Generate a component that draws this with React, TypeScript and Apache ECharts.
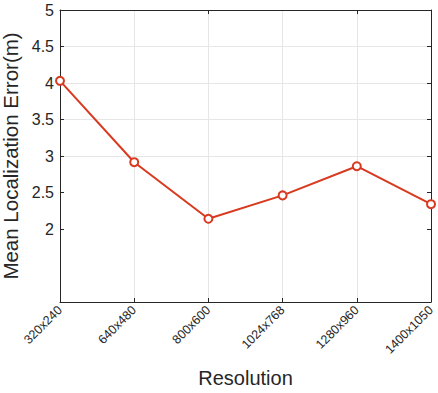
import React, { useEffect, useRef } from "react";
import * as echarts from "echarts";

const categories = ["320x240", "640x480", "800x600", "1024x768", "1280x960", "1400x1050"];
const errorValues = [4.03, 2.915, 2.14, 2.46, 2.86, 2.34];
const yTicks = [2, 2.5, 3, 3.5, 4, 4.5, 5];

const FONT = "'Liberation Sans', Arial, Helvetica, sans-serif";
const RED = "#d8391f";
const AXIS = "#262626";
const GRID = "#e6e6e6";

export default function App() {
  const ref = useRef<HTMLDivElement>(null);
  useEffect(() => {
    if (!ref.current) return;
    const chart = echarts.init(ref.current, undefined, { renderer: "svg" });
    const baseX = {
      type: "category" as const,
      data: categories,
      boundaryGap: false,
      axisLine: { show: true, onZero: false, lineStyle: { color: AXIS, width: 1 } },
      axisTick: { show: true, inside: true, length: 4, alignWithLabel: true, lineStyle: { color: AXIS } },
    };
    const baseY = {
      type: "value" as const,
      min: 1,
      max: 5,
      interval: 0.5,
      axisLine: { show: true, lineStyle: { color: AXIS, width: 1 } },
      axisTick: { show: true, inside: true, length: 4, customValues: yTicks, lineStyle: { color: AXIS } },
    };
    chart.setOption({
      animation: false,
      grid: { left: 60, right: 7, top: 10, bottom: 91, containLabel: false, outerBoundsMode: "none" },
      xAxis: [
        {
          ...baseX,
          position: "bottom",
          name: "Resolution",
          nameLocation: "middle",
          nameGap: 66,
          nameTextStyle: { fontFamily: FONT, fontSize: 20, color: AXIS },
          axisLabel: {
            rotate: 45,
            fontFamily: FONT,
            fontSize: 12.5,
            color: AXIS,
            margin: 6,
            interval: 0,
            hideOverlap: false,
          },
          splitLine: { show: true, lineStyle: { color: GRID, width: 1 } },
        },
        {
          ...baseX,
          position: "top",
          axisLabel: { show: false },
          splitLine: { show: false },
        },
      ],
      yAxis: [
        {
          ...baseY,
          position: "left",
          name: "Mean Localization Error(m)",
          nameLocation: "middle",
          nameGap: 30,
          nameTextStyle: { fontFamily: FONT, fontSize: 20.5, color: AXIS },
          axisLabel: {
            customValues: yTicks,
            fontFamily: FONT,
            fontSize: 16,
            color: AXIS,
            margin: 6,
            formatter: (v: number) => String(v),
          },
          splitLine: {
            show: true,
            lineStyle: {
              color: ["transparent", "transparent", GRID, GRID, GRID, GRID, GRID, GRID, GRID],
              width: 1,
            },
          },
        },
        {
          ...baseY,
          position: "right",
          axisLabel: { show: false },
          splitLine: { show: false },
        },
      ],
      series: [
        {
          type: "line",
          data: errorValues,
          xAxisIndex: 0,
          yAxisIndex: 0,
          symbol: "circle",
          symbolSize: 8,
          showSymbol: true,
          lineStyle: { color: RED, width: 2 },
          itemStyle: { color: "#ffffff", borderColor: RED, borderWidth: 2 },
          emphasis: { disabled: true },
          clip: false,
        },
      ],
    });
    return () => chart.dispose();
  }, []);
  return <div ref={ref} style={{ width: 438, height: 393, position: "absolute", left: 0, top: 0 }} />;
}
